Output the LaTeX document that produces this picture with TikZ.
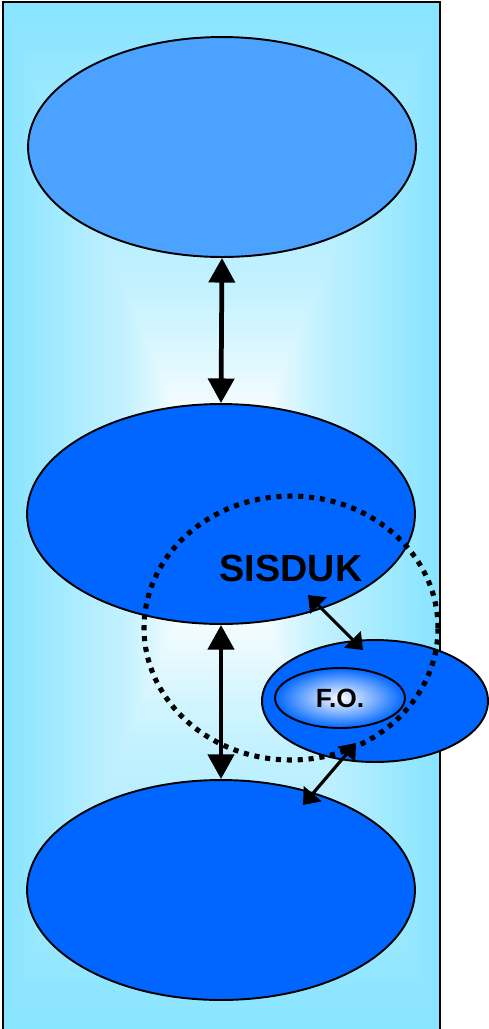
\documentclass[tikz,border=0pt]{standalone}
\usepackage{fontspec}
\setmainfont{Liberation Sans}
\usepackage{tikz}
\usetikzlibrary{positioning,shapes.geometric,arrows.meta}

\definecolor{bgcyan}{RGB}{136,228,255}
\definecolor{topblue}{RGB}{75,162,255}
\definecolor{deepblue}{RGB}{0,102,255}

\begin{document}
\begin{tikzpicture}
                    [
                        x=0.02cm, y=-0.02cm,
                        layer/.style={draw,ellipse,line width=1.1pt,fill=deepblue,
                          minimum width=7.76cm,minimum height=4.4cm,inner sep=0pt},
                        vlink/.style={{Triangle[length=14pt,width=14.7pt]}-{Triangle[length=14pt,width=14.7pt]},line width=2.7pt},
                        dlink/.style={{Triangle[length=8.5pt,width=13pt]}-{Triangle[length=8.5pt,width=13pt]},line width=1.8pt},
                        sysline/.style={draw,ellipse,line width=2.9pt,dash pattern=on 2.9pt off 3.3pt,
                          minimum width=5.88cm,minimum height=5.28cm,inner sep=0pt}
                    ]
                    
                    % Rahmen
                    \useasboundingbox (0,0) rectangle (489,1029);
                    \foreach \i in {0,...,49}
                    {
                        \pgfmathsetmacro\mix{100*max(0.04,min(1-0.0185*\i,0.46-0.036*(\i-29)))}
                        \fill[bgcyan!\mix!white] (3+\i*4.37,2+\i*10.25) rectangle (440-\i*4.37,1029-\i*10.25);
                    }
                    \draw[line width=0.8pt] (3,2) rectangle (440,1045);
                    
                    % Ebenen
                    \node[layer,fill=topblue] (top) at (222,147) {};
                    \node[layer] (mid) at (221,514) {};
                    \node[layer] (bot) at (221,890) {};
                    \node[draw,ellipse,line width=1.1pt,fill=deepblue,minimum width=4.52cm,
                        minimum height=2.44cm,inner sep=0pt] (outer) at (375,701) {};
                    \node[draw,ellipse,line width=1.1pt,inner color=white,outer color=deepblue,
                        minimum width=2.6cm,minimum height=1.2cm,inner sep=0pt,
                        font=\bfseries\fontsize{15}{17}\selectfont] (fo) at (340,698) {F.O.};
                    \node[inner sep=0pt,font=\bfseries\fontsize{21.5}{24}\selectfont] (sisduk) at (291,568) {SISDUK};
                    \node[sysline] (sys) at (291,628) {};
                    
                    % Pfeile
                    \coordinate (a1) at (308,595);
                    \coordinate (a2) at (363,650);
                    \coordinate (b1) at (356,743);
                    \coordinate (b2) at (303,805);
                    \draw[vlink] (top.south) -- (mid.north);
                    \draw[vlink] (mid.south) -- (bot.north);
                    \draw[dlink] (a1) -- (a2);
                    \draw[dlink] (b1) -- (b2);
                \end{tikzpicture}
\end{document}
